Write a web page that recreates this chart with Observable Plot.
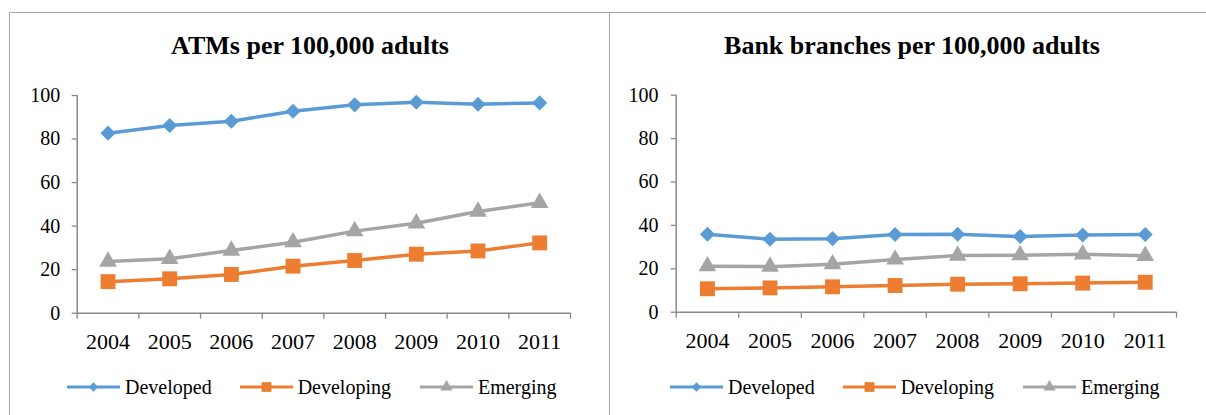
<!DOCTYPE html>
<html><head><meta charset="utf-8">
<script src="https://cdn.jsdelivr.net/npm/d3@7"></script>
<script src="https://cdn.jsdelivr.net/npm/@observablehq/plot@0.6"></script>
<style>
html,body{margin:0;padding:0;background:#fff;}
body{width:1206px;height:415px;position:relative;overflow:hidden;font-family:"Liberation Serif","Times New Roman",serif;color:#000;}
.abs{position:absolute;}
.title{font-family:"Liberation Serif","Times New Roman",serif;font-weight:bold;font-size:26px;line-height:26px;text-align:center;white-space:nowrap;}
.legend{display:flex;align-items:center;font-family:"Liberation Serif","Times New Roman",serif;font-size:20px;line-height:20px;white-space:nowrap;}
.legend .item{display:flex;align-items:center;}
.legend svg{display:block;}
.hline{border-top:1.5px solid #a6a6a6;height:0;}
.vline{border-left:1.5px solid #a6a6a6;width:0;}
svg text{font-family:"Liberation Serif","Times New Roman",serif;}
</style></head><body>
<script>
// ---- data ----
const years = [2004, 2005, 2006, 2007, 2008, 2009, 2010, 2011];
const seriesNames = ["Developed", "Developing", "Emerging"];
const seriesColors = ["#5B9BD5", "#ED7D31", "#A5A5A5"];
const seriesSymbols = ["diamond2", "square", "triangle"];
const yTicks = [0, 20, 40, 60, 80, 100];

const atmTitle = "ATMs per 100,000 adults";
const atmDeveloped  = [82.7, 86.2, 88.2, 92.8, 95.7, 96.9, 96.0, 96.6];
const atmDeveloping = [14.5, 15.8, 17.8, 21.6, 24.2, 27.1, 28.6, 32.3];
const atmEmerging   = [23.7, 25.0, 28.8, 32.6, 37.7, 41.3, 46.7, 50.7];

const branchTitle = "Bank branches per 100,000 adults";
const branchDeveloped  = [35.9, 33.6, 33.9, 35.8, 35.9, 34.9, 35.6, 35.8];
const branchDeveloping = [10.8, 11.2, 11.7, 12.3, 12.9, 13.1, 13.4, 13.8];
const branchEmerging   = [21.2, 21.0, 22.1, 24.3, 26.1, 26.3, 26.7, 26.0];

// ---- helpers ----
const SERIF = '"Liberation Serif","Times New Roman",serif';
function el(tag, cls, style, parent) {
  const e = document.createElement(tag);
  if (cls) e.className = cls;
  Object.assign(e.style, style || {});
  (parent || document.body).appendChild(e);
  return e;
}

function makeChart(values, cfg) {
  const data = [];
  seriesNames.forEach((name, i) => values[i].forEach((v, j) => data.push({series: name, year: years[j], value: v})));
  const lo = years[0] - 0.5, hi = years[years.length - 1] + 0.5;
  const bounds = d3.range(lo, hi + 0.001, 1);
  const axisColor = "#888888";
  const rs = [6.8, 8.4, 6.6];
  return Plot.plot({
    width: cfg.width, height: 290,
    marginLeft: cfg.marginLeft, marginRight: cfg.marginRight,
    marginTop: cfg.marginTop, marginBottom: cfg.marginBottom,
    style: `font-family: ${SERIF}; background: transparent; overflow: visible; color: #000;`,
    x: {domain: [lo, hi], label: null},
    y: {domain: [0, 100], label: null},
    color: {domain: seriesNames, range: seriesColors},
    symbol: {domain: seriesNames, range: seriesSymbols},
    marks: [
      Plot.axisY({ticks: yTicks, label: null, tickSize: 5, tickPadding: cfg.yPad, fontSize: 20, fontFamily: SERIF, stroke: axisColor, strokeWidth: 1.3, fill: "#000"}),
      Plot.axisX({ticks: years, label: null, tickSize: 0, tickPadding: 20, fontSize: 22, fontFamily: SERIF, tickFormat: d => String(d), fill: "#000"}),
      Plot.axisX({ticks: bounds, label: null, tickSize: 6, tickFormat: () => "", stroke: axisColor, strokeWidth: 1.3}),
      Plot.ruleY([0], {stroke: axisColor, strokeWidth: 1.5}),
      Plot.ruleX([lo], {y1: 0, y2: 100, stroke: axisColor, strokeWidth: 1.5}),
      Plot.line(data, {x: "year", y: "value", z: "series", stroke: "series", strokeWidth: 3.5}),
      ...seriesNames.map((name, i) => Plot.dot(data.filter(d => d.series === name), {x: "year", y: "value", fill: "series", symbol: "series", r: rs[i]}))
    ]
  });
}

function swatch(i) {
  const w = 53, h = 16;
  const svg = d3.create("svg").attr("width", w).attr("height", h);
  svg.append("line").attr("x1", 0).attr("x2", w).attr("y1", h / 2).attr("y2", h / 2)
    .attr("stroke", seriesColors[i]).attr("stroke-width", 3.2);
  const sizes = [55, 95, 65];
  const sym = [d3.symbolDiamond2, d3.symbolSquare, d3.symbolTriangle][i];
  svg.append("path").attr("d", d3.symbol(sym, sizes[i])()).attr("transform", `translate(${w / 2},${h / 2})`)
    .attr("fill", seriesColors[i]);
  return svg.node();
}

function makeLegend(left, gaps) {
  const lg = el("div", "legend abs", {left: left + "px", top: "377px"});
  seriesNames.forEach((name, i) => {
    const it = el("div", "item", {marginRight: gaps[i] + "px"}, lg);
    it.appendChild(swatch(i));
    const t = el("span", "", {marginLeft: "5px"}, it);
    t.textContent = name;
  });
}

// ---- frame lines ----
el("div", "hline abs", {left: "9px", top: "12px", width: "1197px"});
el("div", "vline abs", {left: "9px", top: "12px", height: "403px"});
el("div", "vline abs", {left: "609px", top: "12px", height: "403px"});

// ---- titles ----
const t1 = el("div", "title abs", {left: "10px", width: "600px", top: "33px"}); t1.textContent = atmTitle;
const t2 = el("div", "title abs", {left: "614px", width: "596px", top: "33px"}); t2.textContent = branchTitle;

// ---- charts ----
const c1 = el("div", "abs", {left: "0px", top: "70px"});
c1.appendChild(makeChart([atmDeveloped, atmDeveloping, atmEmerging],
  {width: 610, marginLeft: 76.7, marginRight: 40, marginTop: 25, marginBottom: 47.3, yPad: 12}));
const c2 = el("div", "abs", {left: "610px", top: "70px"});
c2.appendChild(makeChart([branchDeveloped, branchDeveloping, branchEmerging],
  {width: 596, marginLeft: 65.7, marginRight: 30, marginTop: 24.7, marginBottom: 48.3, yPad: 12.7}));

// ---- legends ----
makeLegend(67, [28, 29, 0]);
makeLegend(670, [28, 29, 0]);
</script>
</body></html>
